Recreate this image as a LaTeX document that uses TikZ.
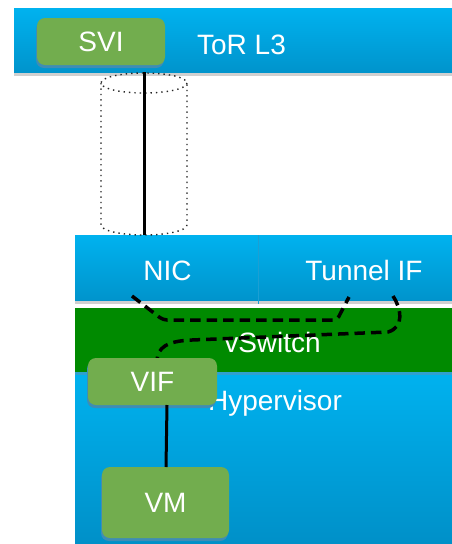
\documentclass[tikz,border=0pt]{standalone}
\usepackage{fontspec}
\setmainfont{Liberation Sans}
\usetikzlibrary{shadows}
\definecolor{blueTop}{HTML}{00B2EF}
\definecolor{blueBot}{HTML}{0094CC}
\definecolor{blueDeep}{HTML}{0090C8}
\definecolor{barGray}{HTML}{D0D0D0}
\definecolor{vsGreen}{HTML}{008A00}
\definecolor{boxGreen}{HTML}{72AD4E}
\definecolor{boxShade}{HTML}{3F8DB4}
\definecolor{hvEdge}{HTML}{2FA0CF}
\definecolor{divLine}{HTML}{1C9FD3}
\begin{document}
\begin{tikzpicture}[x=1pt,y=-1pt,
  lbl/.style={text=white,font=\fontsize{28}{32}\selectfont,inner sep=0pt,anchor=base},
  gbox/.style={rectangle,rounded corners=8pt,fill=boxGreen,text=white,
    font=\fontsize{28}{32}\selectfont,inner sep=0pt,
    general shadow={shadow xshift=-1pt,shadow yshift=-3pt,fill=boxShade}},
  dashlink/.style={line width=3.5pt,dash pattern=on 10.5pt off 6pt,black},
  solidlink/.style={line width=3pt,black},
  dotcyl/.style={line width=1.4pt,dash pattern=on 1.4pt off 4pt,black!85}]
\useasboundingbox (0,0) rectangle (452,544);

% top-of-rack switch bar
\fill[barGray] (14,72) rectangle (452,76);
\shade[top color=blueTop,bottom color=blueBot] (14,8) rectangle (452,72);

% host NIC / tunnel interface bar
\fill[barGray] (75,300) rectangle (452,304);
\shade[top color=blueTop,bottom color=blueBot] (75,235) rectangle (452,300);
\draw[divLine,line width=0.8pt] (258,235) -- (258,304);

% vSwitch layer
\fill[vsGreen] (75,308) rectangle (452,372);

% hypervisor
\shade[top color=blueTop,bottom color=blueDeep] (75,372) rectangle (452,544);
\fill[hvEdge] (75,372) rectangle (452,375);

% tunnel cylinder between ToR and NIC
\draw[dotcyl] (144,83) ellipse [x radius=43, y radius=10];
\draw[dotcyl] (101,83) -- (101,225) arc[start angle=180,end angle=0,x radius=43,y radius=10] -- (187,83);
\coordinate (cyltop) at (144,72);
\coordinate (cylbot) at (144,235);
\draw[solidlink] (cyltop) -- (cylbot);

% labels
\node[lbl] (tor) at (241.5,54) {ToR L3};
\node[lbl] (nic) at (167.5,280) {NIC};
\node[lbl] (tunif) at (364,280) {Tunnel IF};
\node[lbl] (vsw) at (272.5,352) {vSwitch};
\node[lbl] (hyp) at (275,410) {Hypervisor};

% dashed packet paths through the vSwitch
\coordinate (nicport) at (132,296);
\coordinate (tunin) at (349,297);
\coordinate (tunout) at (393,296);
\coordinate (vifport) at (157,360);
\draw[dashlink,rounded corners=4pt] (nicport) -- (163,320) -- (337,320) -- (tunin);
\draw[dashlink] (tunout) .. controls (401,308) and (405,327) .. (388,332)
  -- (192,340) .. controls (166,341) and (158,348) .. (vifport);

% interfaces and VM
\node[gbox,minimum width=128pt,minimum height=47pt] (svi) at (101,41.5) {SVI};
\node[gbox,minimum width=129pt,minimum height=47pt] (vif) at (152.5,381.5) {VIF};
\node[gbox,minimum width=127pt,minimum height=71pt] (vm) at (165.5,502.5) {VM};

\coordinate (vifdown) at (167,405);
\coordinate (vmup) at (166,467);
\draw[solidlink] (vifdown) -- (vmup);
\end{tikzpicture}
\end{document}
